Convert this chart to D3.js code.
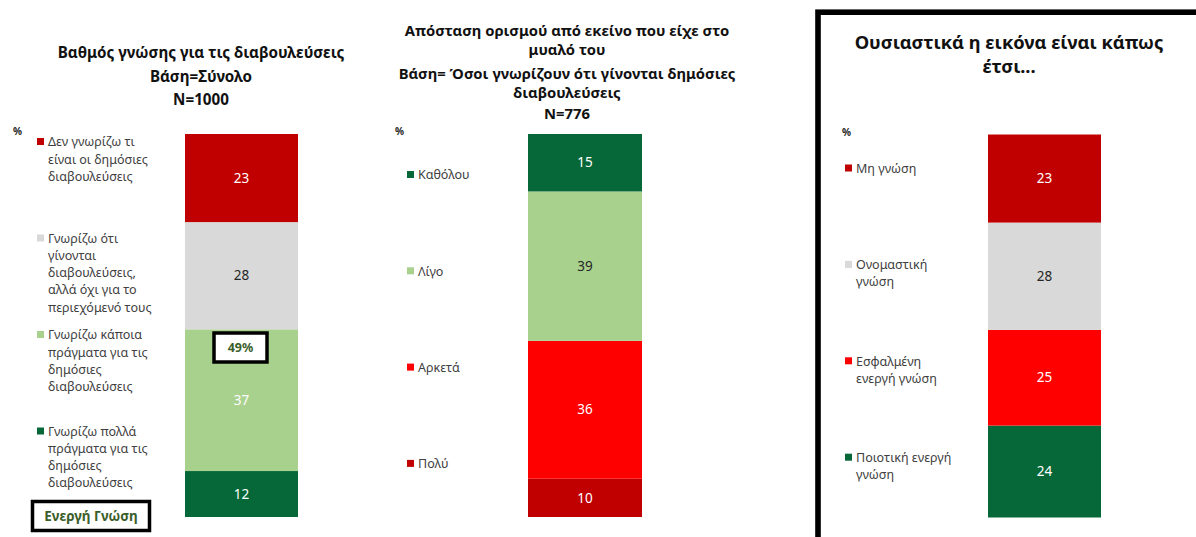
<!DOCTYPE html>
<html>
<head>
<meta charset="utf-8">
<script src="https://cdn.jsdelivr.net/npm/d3@7"></script>
<style>
  body { margin: 0; background: #fff; }
  svg { display: block; }
</style>
</head>
<body>
<svg id="chart" width="1196" height="537"></svg>
<script>
// chart 1 - Βαθμός γνώσης
const knowledgeLabels = [
    "Δεν γνωρίζω τι\nείναι οι δημόσιες\nδιαβουλεύσεις",
    "Γνωρίζω ότι\nγίνονται\nδιαβουλεύσεις,\nαλλά όχι για το\nπεριεχόμενό τους",
    "Γνωρίζω κάποια\nπράγματα για τις\nδημόσιες\nδιαβουλεύσεις",
    "Γνωρίζω πολλά\nπράγματα για τις\nδημόσιες\nδιαβουλεύσεις"
]
const knowledgeValues = [23, 28, 37, 12]
const knowledgeColors = ["#C00000", "#D9D9D9", "#A9D18E", "#066838"]

// chart 2 - Απόσταση ορισμού
const distanceLabels = ["Καθόλου", "Λίγο", "Αρκετά", "Πολύ"]
const distanceValues = [15, 39, 36, 10]
const distanceColors = ["#066838", "#A9D18E", "#FF0000", "#C00000"]

// chart 3 - Ουσιαστικά η εικόνα
const pictureLabels = ["Μη γνώση", "Ονομαστική\nγνώση", "Εσφαλμένη\nενεργή γνώση", "Ποιοτική ενεργή\nγνώση"]
const pictureValues = [23, 28, 25, 24]
const pictureColors = ["#C00000", "#D9D9D9", "#FF0000", "#066838"]

const activeShare = "49%"
const activeLabel = "Ενεργή Γνώση"

const svg = d3.select("#chart")
const font = "'Noto Sans', sans-serif"

const drawPanel = (cfg) => {
    // values are listed top->bottom, stack them bottom->top
    let keys = cfg.labels.map((d, i) => i)
    let row = {}
    cfg.values.forEach((v, i) => row[i] = v)
    let stacked = d3.stack().keys(keys.slice().reverse())([row])

    let y = d3.scaleLinear().domain([0, 100]).range([cfg.bottom, cfg.top])
    let x = d3.scaleBand().domain(["bar"]).range([cfg.x0, cfg.x1]).padding(0)

    const g = svg.append("g")

    g.selectAll(".seg")
        .data(stacked)
        .enter().append("rect")
        .attr("class", "seg")
        .attr("x", x("bar"))
        .attr("width", x.bandwidth())
        .attr("y", d => y(d[0][1]))
        .attr("height", d => y(d[0][0]) - y(d[0][1]))
        .attr("fill", d => cfg.colors[d.key])

    g.selectAll(".val")
        .data(stacked)
        .enter().append("text")
        .attr("class", "val")
        .attr("x", x("bar") + x.bandwidth() / 2)
        .attr("y", d => (y(d[0][0]) + y(d[0][1])) / 2)
        .attr("dy", "0.35em")
        .attr("text-anchor", "middle")
        .style("font", `13.5px ${font}`)
        .attr("fill", d => {
            let c = cfg.colors[d.key]
            if (c == "#D9D9D9") return "#262626"
            if (c == "#A9D18E") return cfg.whiteLight ? "#fff" : "#262626"
            return "#fff"
        })
        .text(d => cfg.values[d.key])

    // legend
    const leg = g.selectAll(".leg")
        .data(cfg.labels)
        .enter().append("g")
        .attr("class", "leg")
        .attr("transform", (d, i) => `translate(${cfg.legX}, ${cfg.legY + i * cfg.legStep})`)

    leg.append("rect")
        .attr("x", 0).attr("y", -4)
        .attr("width", 7).attr("height", 7)
        .attr("fill", (d, i) => cfg.colors[i])

    leg.append("text")
        .style("font", `12.5px ${font}`)
        .attr("fill", "#404040")
        .selectAll("tspan")
        .data(d => d.split("\n"))
        .enter().append("tspan")
        .attr("x", 11)
        .attr("y", (d, i) => i * 17.2)
        .attr("dy", "0.35em")
        .text(d => d)

    g.append("text")
        .attr("x", cfg.pctX).attr("y", cfg.pctY)
        .style("font", `bold 10px ${font}`)
        .attr("fill", "#262626")
        .text("%")

    g.append("text")
        .attr("text-anchor", "middle")
        .style("font", `bold ${cfg.titleSize}px ${font}`)
        .attr("fill", "#111")
        .selectAll("tspan")
        .data(cfg.title)
        .enter().append("tspan")
        .attr("x", cfg.titleX)
        .attr("y", d => d[1])
        .attr("dy", "0.35em")
        .text(d => d[0])

    return y
}

drawPanel({
    labels: knowledgeLabels, values: knowledgeValues, colors: knowledgeColors,
    x0: 185, x1: 298, top: 134, bottom: 517, whiteLight: true,
    legX: 37, legY: 142, legStep: 96.5,
    pctX: 13, pctY: 135,
    titleSize: 15.2, titleX: 201,
    title: [["Βαθμός γνώσης για τις διαβουλεύσεις", 53], ["Βάση=Σύνολο", 77], ["N=1000", 100]]
})

drawPanel({
    labels: distanceLabels, values: distanceValues, colors: distanceColors,
    x0: 528, x1: 642, top: 134, bottom: 517,
    legX: 407, legY: 175, legStep: 96.3,
    pctX: 395, pctY: 135,
    titleSize: 14.8, titleX: 567,
    title: [["Απόσταση ορισμού από εκείνο που είχε στο", 31], ["μυαλό του", 50],
            ["Βάση= Όσοι γνωρίζουν ότι γίνονται δημόσιες", 73.5], ["διαβουλεύσεις", 93], ["N=776", 114]]
})

// frame round the third panel
svg.append("rect")
    .attr("x", 818).attr("y", 12.2)
    .attr("width", 400).attr("height", 560)
    .attr("fill", "none")
    .attr("stroke", "#000")
    .attr("stroke-width", 5.6)

drawPanel({
    labels: pictureLabels, values: pictureValues, colors: pictureColors,
    x0: 988, x1: 1101, top: 134.5, bottom: 517.5,
    legX: 845, legY: 168.5, legStep: 96.4,
    pctX: 842, pctY: 136,
    titleSize: 18.3, titleX: 1009,
    title: [["Ουσιαστικά η εικόνα είναι κάπως", 43], ["έτσι...", 67]]
})

// call-out boxes on panel 1
const boxes = [
    { text: activeShare, x: 214, y: 333, w: 53, h: 29, size: 12.5 },
    { text: activeLabel, x: 32.5, y: 501.5, w: 117, h: 29, size: 13.5 }
]
const bx = svg.selectAll(".box").data(boxes).enter().append("g").attr("class", "box")
bx.append("rect")
    .attr("x", d => d.x).attr("y", d => d.y)
    .attr("width", d => d.w).attr("height", d => d.h)
    .attr("fill", "#fff").attr("stroke", "#000").attr("stroke-width", 3.5)
bx.append("text")
    .attr("x", d => d.x + d.w / 2).attr("y", d => d.y + d.h / 2)
    .attr("dy", "0.35em").attr("text-anchor", "middle")
    .style("font", d => `bold ${d.size}px ${font}`)
    .attr("fill", "#3B5E2B")
    .text(d => d.text)
</script>
</body>
</html>
